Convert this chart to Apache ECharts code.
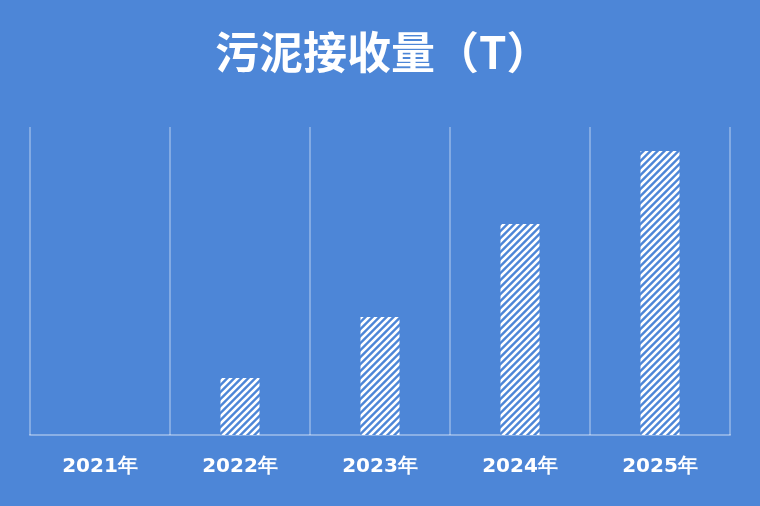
<!DOCTYPE html>
<html>
<head>
<meta charset="utf-8">
<script src="https://cdn.jsdelivr.net/npm/echarts@6/dist/echarts.min.js"></script>
<style>
html,body{margin:0;padding:0;background:#4d86d7;}
#c{width:760px;height:506px;}
</style>
</head>
<body>
<div id="c"></div>
<script>
var titleText = '污泥接收量（T）';
var categories = ['2021年', '2022年', '2023年', '2024年', '2025年'];
var values = [0, 57, 118, 211, 284];
var yMax = 308;

function makePattern() {
  var s = 7;
  var cv = document.createElement('canvas');
  cv.width = s; cv.height = s;
  var ctx = cv.getContext('2d');
  ctx.fillStyle = '#4d86d7';
  ctx.fillRect(0, 0, s, s);
  ctx.strokeStyle = '#ffffff';
  ctx.lineWidth = 2.6;
  ctx.beginPath();
  ctx.moveTo(-s, s); ctx.lineTo(s, -s);
  ctx.moveTo(0, s * 2); ctx.lineTo(s * 2, 0);
  ctx.moveTo(0, s); ctx.lineTo(s, 0);
  ctx.stroke();
  return cv;
}

var chart = echarts.init(document.getElementById('c'));
chart.setOption({
  backgroundColor: '#4d86d7',
  title: {
    text: titleText,
    left: 210,
    top: 25,
    textStyle: {
      color: '#ffffff',
      fontSize: 44,
      fontWeight: 'bold',
      fontFamily: 'Noto Sans CJK SC'
    }
  },
  grid: { left: 30, right: 30, top: 127, bottom: 71 },
  xAxis: {
    type: 'category',
    data: categories,
    boundaryGap: true,
    axisLine: { show: true, lineStyle: { color: 'rgba(255,255,255,0.35)', width: 2 } },
    axisTick: { show: false },
    splitLine: { show: true, lineStyle: { color: 'rgba(255,255,255,0.3)', width: 2 } },
    axisLabel: {
      color: '#ffffff',
      fontSize: 20,
      fontWeight: 'bold',
      fontFamily: 'DejaVu Sans',
      margin: 22
    }
  },
  yAxis: {
    type: 'value',
    min: 0,
    max: yMax,
    show: false,
    splitLine: { show: false }
  },
  series: [{
    type: 'bar',
    data: values,
    barWidth: 39,
    itemStyle: {
      color: { image: makePattern(), repeat: 'repeat' }
    }
  }]
});
</script>
</body>
</html>
